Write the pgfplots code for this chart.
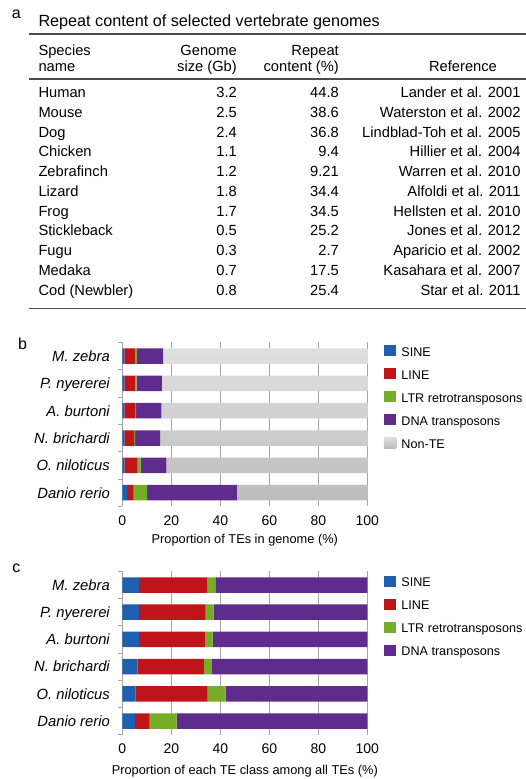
\documentclass[border=0pt]{standalone}
\usepackage{pgfplots}
\pgfplotsset{compat=1.18}
\usepackage{fontspec}
\setmainfont{Liberation Sans}
\newcommand{\fs}[1]{\fontsize{#1}{#1}\selectfont}
\definecolor{cSINE}{HTML}{1F5FB0}
\definecolor{cLINE}{HTML}{C0141B}
\definecolor{cLTR}{HTML}{76AC28}
\definecolor{cDNA}{HTML}{5F2B8D}
\definecolor{cAx}{HTML}{A6A6A6}
\pgfplotsset{
  tebars/.style={
    scale only axis, width=245pt,
    xbar stacked, bar width=15.5pt,
    xmin=0, xmax=100, ymin=-0.5, ymax=5.5,
    axis lines*=left,
    x axis line style={draw=none},
    y axis line style={draw=cAx, line width=0.8pt},
    xtick={0,20,40,60,80,100},
    ytick={0,1,2,3,4,5},
    yticklabels={Danio rerio,O. niloticus,N. brichardi,A. burtoni,P. nyererei,M. zebra},
    minor ytick={-0.5,0.5,1.5,2.5,3.5,4.5,5.5},
    major tick length=0pt, minor tick length=4pt, tick align=outside,
    minor tick style={draw=cAx, line width=0.8pt},
    xmajorgrids, major x grid style={draw=cAx, line width=1pt},
    /pgf/number format/assume math mode=true,
    xticklabel style={font=\fs{14}, inner sep=0pt, anchor=north, yshift=-8.9pt, text height=10pt, text depth=0pt},
    yticklabel style={font=\fs{14.8}\itshape, inner sep=0pt, anchor=east, xshift=-12.3pt, text height=10.6pt, text depth=0pt},
    legend cell align=left,
    legend image code/.code={\fill[##1,draw=none] (0pt,-4.5pt) rectangle (12.5pt,6.5pt);},
    legend style={draw=none, fill=none, anchor=north west, inner sep=0pt, outer sep=0pt,
      row sep=12pt, column sep=5pt, font=\fs{12.6},
      nodes={inner sep=0pt, text height=9pt, text depth=0pt}},
  }
}
\begin{document}
\begin{tikzpicture}
\path[use as bounding box] (0,0) rectangle (526pt,-779pt);
% ---------- panel a : table ----------
\node[anchor=base west,inner sep=0pt] at (11.7pt,-18.3pt) {\fs{16}a};
\node[anchor=base west,inner sep=0pt] at (38.3pt,-26pt) {\fs{16.2}Repeat content of selected vertebrate genomes};
\draw[line width=1.2pt, black!70] (29pt,-34pt) -- (526pt,-34pt);
\draw[line width=1.2pt, black!70] (29pt,-79pt) -- (526pt,-79pt);
\draw[line width=1.2pt, black!70] (29pt,-308.3pt) -- (526pt,-308.3pt);
\begin{scope}[every node/.style={inner sep=0pt, font=\fs{14.7}}]
\node[anchor=base west] at (38.3pt,-55pt) {Species};
\node[anchor=base west] at (38.3pt,-71.5pt) {name};
\node[anchor=base east] at (237pt,-55pt) {Genome};
\node[anchor=base east] at (237pt,-71.5pt) {size (Gb)};
\node[anchor=base east] at (339pt,-55pt) {Repeat};
\node[anchor=base east] at (339pt,-71.5pt) {content (\%)};
\node[anchor=base] at (463pt,-71.5pt) {Reference};
\foreach \n/\g/\r/\rf [count=\i from 0] in {
  Human/3.2/44.8/Lander et al. 2001,
  Mouse/2.5/38.6/Waterston et al. 2002,
  Dog/2.4/36.8/Lindblad-Toh et al. 2005,
  Chicken/1.1/9.4/Hillier et al. 2004,
  Zebrafinch/1.2/9.21/Warren et al. 2010,
  Lizard/1.8/34.4/Alfoldi et al. 2011,
  Frog/1.7/34.5/Hellsten et al. 2010,
  Stickleback/0.5/25.2/Jones et al. 2012,
  Fugu/0.3/2.7/Aparicio et al. 2002,
  Medaka/0.7/17.5/Kasahara et al. 2007,
  Cod (Newbler)/0.8/25.4/Star et al. 2011}{
  \pgfmathsetmacro{\yy}{-97.7-19.73*\i}
  \node[anchor=base west] at (38.3pt,\yy pt) {\n};
  \node[anchor=base east] at (237pt,\yy pt) {\g};
  \node[anchor=base east] at (339pt,\yy pt) {\r};
  \node[anchor=base east] at (520.7pt,\yy pt) {\rf};
}
\end{scope}
% ---------- panel b ----------
\node[anchor=base west,inner sep=0pt] at (18pt,-349.3pt) {\fs{16}b};
\begin{axis}[tebars, at={(122.3pt,-506.4pt)}, anchor=south west, height=164pt,
  xlabel={Proportion of TEs in genome (\%)},
  every axis x label/.style={at={(axis description cs:0.5,0)}, anchor=base, yshift=-36.9pt, font=\fs{12.8}, inner sep=0pt},
  legend style={at={(axis description cs:1.068,0.984)}},
]
\addplot[fill=cSINE, draw=none] coordinates {(1.9,0) (0.8,1) (0.8,2) (0.8,3) (0.8,4) (0.8,5)};
\addplot[fill=cLINE, draw=none] coordinates {(2.75,0) (5.3,1) (4.0,2) (4.4,3) (4.5,4) (4.5,5)};
\addplot[fill=cLTR, draw=none] coordinates {(5.45,0) (1.4,1) (0.4,2) (0.4,3) (0.55,4) (0.6,5)};
\addplot[fill=cDNA, draw=none] coordinates {(36.7,0) (10.5,1) (10.2,2) (10.3,3) (10.35,4) (10.8,5)};
\addplot[top color=black!12, bottom color=black!26, draw=none] coordinates {(53.2,0) (82.0,1) (84.6,2) (84.1,3) (83.8,4) (83.3,5)};
\legend{SINE,LINE,LTR retrotransposons,DNA transposons,Non-TE}
\end{axis}
% ---------- panel c ----------
\node[anchor=base west,inner sep=0pt] at (12.3pt,-572.3pt) {\fs{16}c};
\begin{axis}[tebars, at={(122.3pt,-734.6pt)}, anchor=south west, height=163.2pt,
  xlabel={Proportion of each TE class among all TEs (\%)},
  every axis x label/.style={at={(axis description cs:0.5,0)}, anchor=base, yshift=-39.4pt, font=\fs{12.8}, inner sep=0pt},
  legend style={at={(axis description cs:1.068,0.974)}},
]
\addplot[fill=cSINE, draw=none] coordinates {(5.1,0) (5.3,1) (6.3,2) (6.8,3) (6.8,4) (6.8,5)};
\addplot[fill=cLINE, draw=none] coordinates {(6.1,0) (29.5,1) (27.0,2) (27.1,3) (27.2,4) (27.8,5)};
\addplot[fill=cLTR, draw=none] coordinates {(11.0,0) (7.4,1) (3.3,2) (3.0,3) (3.3,4) (3.4,5)};
\addplot[fill=cDNA, draw=none] coordinates {(77.8,0) (57.8,1) (63.4,2) (63.1,3) (62.7,4) (62.0,5)};
\legend{SINE,LINE,LTR retrotransposons,DNA transposons}
\end{axis}
\end{tikzpicture}
\end{document}
